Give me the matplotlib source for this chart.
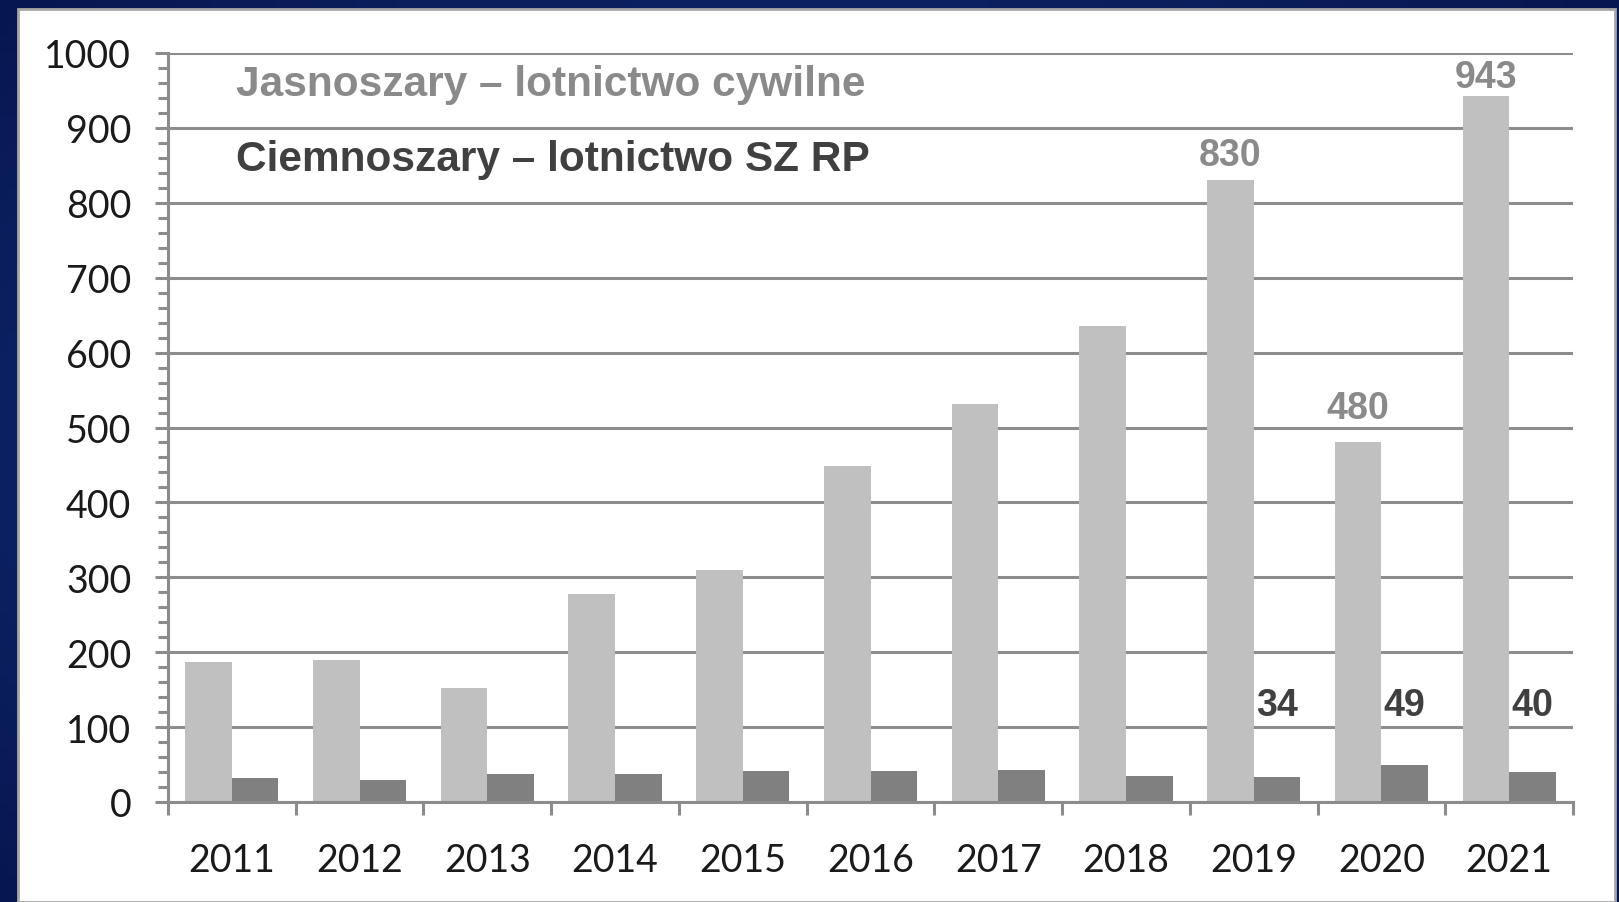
import matplotlib
matplotlib.use("Agg")
import matplotlib.pyplot as plt
from matplotlib.patches import Rectangle
from matplotlib.ticker import MultipleLocator, FixedLocator
import numpy as np

years = ["2011", "2012", "2013", "2014", "2015", "2016", "2017", "2018", "2019", "2020", "2021"]
civil = [187, 190, 152, 278, 310, 449, 532, 635, 830, 480, 943]
military = [32, 30, 38, 38, 41, 41, 43, 35, 34, 49, 40]
civil_labels = {8: "830", 9: "480", 10: "943"}
military_labels = {8: "34", 9: "49", 10: "40"}
title_light = "Jasnoszary – lotnictwo cywilne"
title_dark = "Ciemnoszary – lotnictwo SZ RP"

W, H = 1619, 903
fig = plt.figure(figsize=(W / 100, H / 100), dpi=100)
fig.patch.set_facecolor("#0b1f5f")

# gradient background
bg = fig.add_axes([0, 0, 1, 1], zorder=-10)
gx = np.linspace(0, 1, 200)
gy = np.linspace(0, 1, 100)
X, Y = np.meshgrid(gx, gy)
grad = 1 - np.hypot(X - 0.5, Y - 0.5) * 1.3
bg.imshow(grad, cmap=matplotlib.colors.LinearSegmentedColormap.from_list("n", ["#061650", "#1a3a8a"]),
          aspect="auto", extent=[0, 1, 0, 1])
bg.set_axis_off()

# white panel
fig.patches.append(Rectangle((18 / W, 0), (1615 - 18) / W, (H - 10) / H, transform=fig.transFigure,
                             facecolor="white", edgecolor="#a6a6a6", linewidth=2, zorder=-5))

ax = fig.add_axes([168 / W, 1 - 803 / H, (1573 - 168) / W, (803 - 54) / H])
ax.set_facecolor("none")
n = len(years)
x = np.arange(n)
w = 0.365
ax.bar(x - w / 2, civil, width=w, color="#c0c0c0", zorder=3)
ax.bar(x + w / 2, military, width=w, color="#808080", zorder=3)

ax.set_xlim(-0.5, n - 0.5)
ax.set_ylim(0, 1000)

gc = "#8c8c8c"
lw = 2.2
ax.yaxis.set_major_locator(MultipleLocator(100))
ax.yaxis.set_minor_locator(MultipleLocator(20))
ax.grid(axis="y", which="major", color=gc, linewidth=lw, zorder=1)
for s in ["top", "right"]:
    ax.spines[s].set_visible(False)
for s in ["left", "bottom"]:
    ax.spines[s].set_color(gc)
    ax.spines[s].set_linewidth(lw)
    ax.spines[s].set_zorder(4)

ax.tick_params(axis="y", which="major", length=9.4, width=lw, color=gc, pad=17,
               labelsize=27, labelcolor="#1a1a1a")
ax.tick_params(axis="y", which="minor", length=7.2, width=lw, color=gc)
for t in ax.get_yticklabels():
    t.set_fontfamily("Lato")

ax.set_xticks(x)
ax.set_xticklabels(years, fontfamily="Lato", fontsize=27, color="#1a1a1a")
ax.xaxis.set_minor_locator(FixedLocator(np.arange(n + 1) - 0.5))
ax.tick_params(axis="x", which="major", length=0, pad=29)
ax.tick_params(axis="x", which="minor", length=9, width=lw, color=gc)

label_offsets = {8: 5.3, 9: 12, 10: 0.5}
for i, s in civil_labels.items():
    ax.annotate(s, (x[i] - w / 2, civil[i]), xytext=(0, label_offsets[i]), textcoords="offset points",
                ha="center", va="bottom", fontsize=27, fontweight="bold",
                color="#8a8a8a", fontfamily="Liberation Sans", zorder=5)
for i, s in military_labels.items():
    ax.text(x[i] + w / 2, 130, s, ha="center", va="center", fontsize=27, fontweight="bold",
            color="#404040", fontfamily="Liberation Sans", zorder=5)

fig.text(236 / W, 1 - 85 / H, title_light, ha="left", va="center", fontsize=30.5,
         fontweight="bold", color="#8a8a8a", fontfamily="Liberation Sans")
fig.text(236 / W, 1 - 160 / H, title_dark, ha="left", va="center", fontsize=30.5,
         fontweight="bold", color="#404040", fontfamily="Liberation Sans")

fig.savefig("out.png", dpi=100)
